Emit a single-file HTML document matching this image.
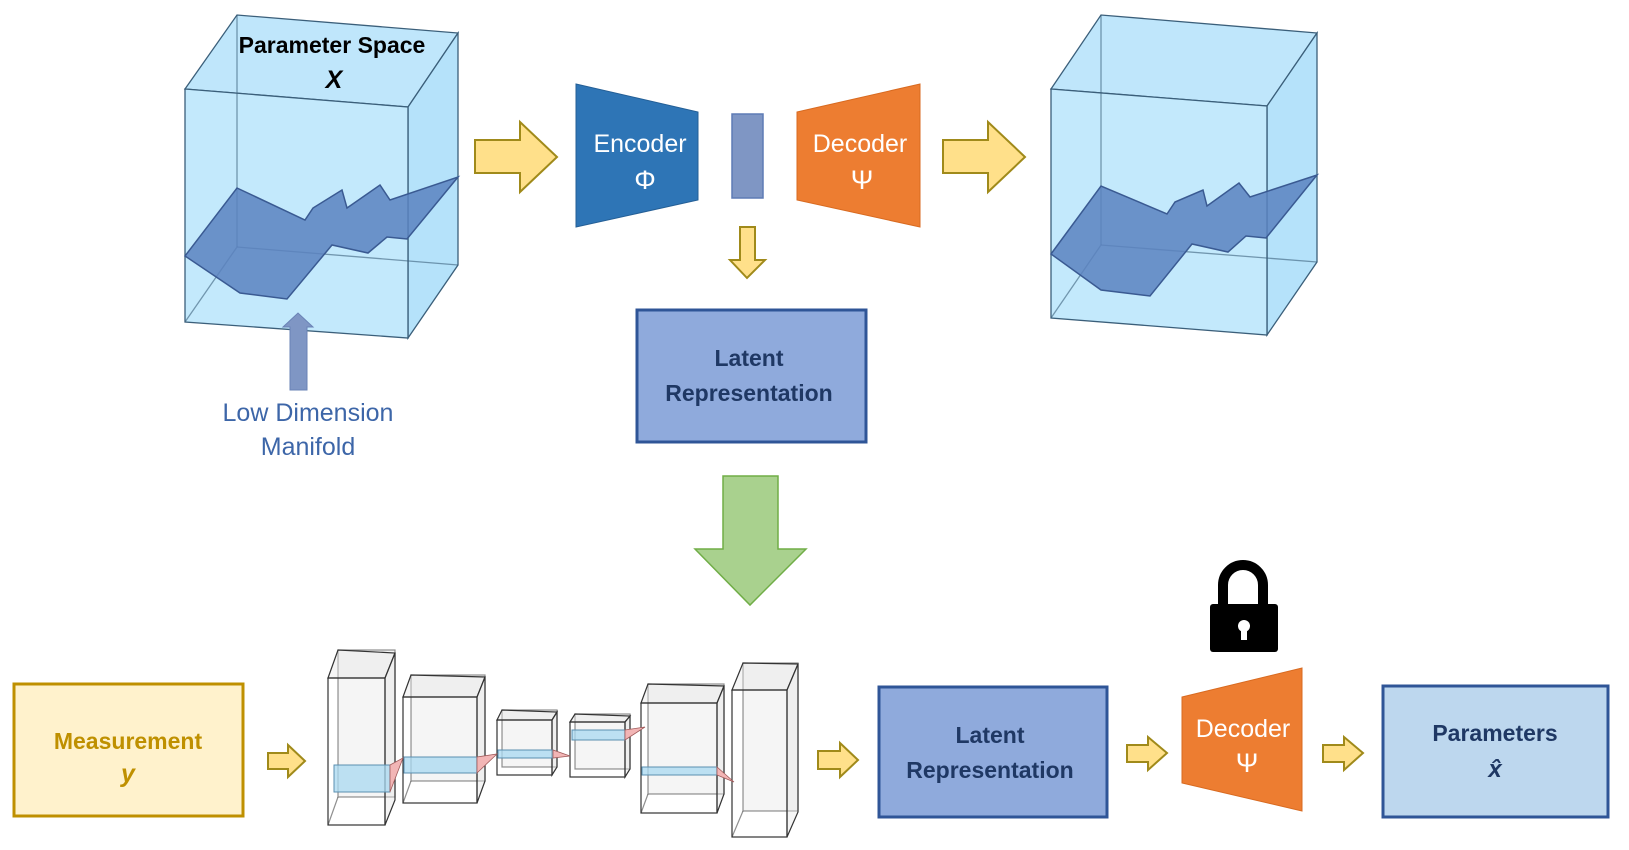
<!DOCTYPE html>
<html><head><meta charset="utf-8"><style>
html,body{margin:0;padding:0;background:#fff;}
svg{display:block;}
text{font-family:"Liberation Sans",sans-serif;}
</style></head><body>
<svg width="1629" height="850" viewBox="0 0 1629 850" xmlns="http://www.w3.org/2000/svg">
<rect width="1629" height="850" fill="#fff"/>

<!-- Left cube -->
<g stroke="#3b5f7a" stroke-width="1.3">
<polygon points="185,89 237,15 458,33 408,107" fill="#bfe6fb"/>
<polygon points="408,107 458,33 458,265 408,338" fill="#b5e2fa"/>
<polygon points="185,89 408,107 408,338 185,322" fill="#bde7fc" fill-opacity="0.9"/>
<line x1="237" y1="15" x2="237" y2="247" stroke-opacity="0.6"/>
<line x1="237" y1="247" x2="458" y2="265" stroke-opacity="0.6"/>
<line x1="237" y1="247" x2="185" y2="322" stroke-opacity="0.6"/>
</g>
<polygon points="185,256 237,188 305,220 313,208 342,190 347,208 380,185 390,200 458,177 407,239 387,237 368,253 332,245 287,299 240,293" fill="#5b82c0" fill-opacity="0.85" stroke="#3a5a92" stroke-width="1.5"/>
<text x="332" y="53" font-size="23" font-weight="bold" text-anchor="middle" fill="#000">Parameter Space</text>
<text x="334" y="88" font-size="25" font-weight="bold" font-style="italic" text-anchor="middle" fill="#000" font-family="Liberation Serif,serif">X</text>
<polygon points="290,390 307,390 307,327 313,327 298,313 283,327 290,327" fill="#7f96c4" stroke="#6a83b6" stroke-width="1"/>
<text x="308" y="421" font-size="25" text-anchor="middle" fill="#3d66a8">Low Dimension</text>
<text x="308" y="455" font-size="25" text-anchor="middle" fill="#3d66a8">Manifold</text>

<!-- Right cube -->
<g stroke="#3b5f7a" stroke-width="1.3">
<polygon points="1051,89 1101,15 1317,33 1267,106" fill="#bfe6fb"/>
<polygon points="1267,106 1317,33 1317,262 1267,335" fill="#b5e2fa"/>
<polygon points="1051,89 1267,106 1267,335 1051,318" fill="#bde7fc" fill-opacity="0.9"/>
<line x1="1101" y1="15" x2="1101" y2="245" stroke-opacity="0.6"/>
<line x1="1101" y1="245" x2="1317" y2="262" stroke-opacity="0.6"/>
<line x1="1101" y1="245" x2="1051" y2="318" stroke-opacity="0.6"/>
</g>
<polygon points="1051,254 1101,186 1167,214 1175,202 1203,190 1207,206 1239,183 1250,197 1317,175 1266,238 1246,236 1228,252 1192,244 1150,296 1101,290" fill="#5b82c0" fill-opacity="0.85" stroke="#3a5a92" stroke-width="1.5"/>

<!-- yellow arrows -->
<g fill="#ffe08a" stroke="#a08a1a" stroke-width="2">
<polygon points="475,140 520,140 520,122 557,157 520,192 520,173 475,173"/>
<polygon points="943,140 988,140 988,122 1025,157 988,192 988,173 943,173"/>
<polygon points="740,227 755,227 755,260 765,260 747,278 730,260 740,260"/>
<polygon points="268,753 288,753 288,745 305,761 288,777 288,769 268,769"/>
<polygon points="818,751 840,751 840,743 858,760 840,777 840,769 818,769"/>
<polygon points="1127,745 1148,745 1148,737 1167,753 1148,770 1148,762 1127,762"/>
<polygon points="1323,745 1344,745 1344,737 1363,753 1344,770 1344,762 1323,762"/>
</g>

<!-- Encoder / bar / Decoder -->
<polygon points="576,84 698,112 698,200 576,227" fill="#2e75b6" stroke="#245f96" stroke-width="1"/>
<text x="640" y="152" font-size="25" text-anchor="middle" fill="#fff">Encoder</text>
<text x="645" y="189" font-size="27" text-anchor="middle" fill="#fff" font-family="Liberation Serif,serif">Φ</text>
<rect x="732" y="114" width="31" height="84" fill="#7f96c4" stroke="#5e7bb5" stroke-width="1.5"/>
<polygon points="797,112 920,84 920,227 797,200" fill="#ed7d31" stroke="#d86a20" stroke-width="1"/>
<text x="860" y="152" font-size="25" text-anchor="middle" fill="#fff">Decoder</text>
<text x="862" y="189" font-size="27" text-anchor="middle" fill="#fff" font-family="Liberation Serif,serif">Ψ</text>

<!-- Latent top -->
<rect x="637" y="310" width="229" height="132" fill="#8faadc" stroke="#2f5597" stroke-width="3"/>
<text x="749" y="366" font-size="23" font-weight="bold" text-anchor="middle" fill="#1f3864">Latent</text>
<text x="749" y="401" font-size="23" font-weight="bold" text-anchor="middle" fill="#1f3864">Representation</text>

<!-- green arrow -->
<polygon points="723,476 778,476 778,549 806,549 750,605 695,549 723,549" fill="#a9d18e" stroke="#70ad47" stroke-width="1.5"/>

<!-- Measurement -->
<rect x="14" y="684" width="229" height="132" fill="#fff2cc" stroke="#bf9000" stroke-width="3"/>
<text x="128" y="749" font-size="23" font-weight="bold" text-anchor="middle" fill="#bf9000">Measurement</text>
<text x="128" y="782" font-size="25" font-weight="bold" font-style="italic" text-anchor="middle" fill="#bf9000" font-family="Liberation Serif,serif">y</text>

<!-- Network boxes (wireframe) -->
<g stroke="#333" stroke-width="1.2" fill="#e6e6e6" fill-opacity="0.4">
<rect x="338" y="650" width="57" height="147" stroke-opacity="0.55"/>
<line x1="328" y1="825" x2="338" y2="797" stroke-opacity="0.55"/>
<polygon points="328,678 338,650 395,653 385,678"/><polygon points="385,678 395,653 395,800 385,825"/>
<rect x="328" y="678" width="57" height="147" fill="none"/>

<rect x="411" y="675" width="74" height="106" stroke-opacity="0.55"/>
<line x1="403" y1="803" x2="411" y2="781" stroke-opacity="0.55"/>
<polygon points="403,697 411,675 485,677 477,697"/><polygon points="477,697 485,677 485,781 477,803"/>
<rect x="403" y="697" width="74" height="106" fill="none"/>

<rect x="502" y="710" width="55" height="57" stroke-opacity="0.55"/>
<polygon points="497,720 502,710 557,712 552,720"/><polygon points="552,720 557,712 557,767 552,775"/>
<rect x="497" y="720" width="55" height="55" fill="none"/>

<rect x="575" y="714" width="55" height="55" stroke-opacity="0.55"/>
<polygon points="570,722 575,714 630,716 625,722"/><polygon points="625,722 630,716 630,769 625,777"/>
<rect x="570" y="722" width="55" height="55" fill="none"/>

<rect x="648" y="684" width="76" height="110" stroke-opacity="0.55"/>
<line x1="641" y1="813" x2="648" y2="794" stroke-opacity="0.55"/>
<polygon points="641,703 648,684 724,686 717,703"/><polygon points="717,703 724,686 724,794 717,813"/>
<rect x="641" y="703" width="76" height="110" fill="none"/>

<rect x="743" y="663" width="55" height="148" stroke-opacity="0.55"/>
<line x1="732" y1="837" x2="743" y2="811" stroke-opacity="0.55"/>
<polygon points="732,690 743,663 798,664 787,690"/><polygon points="787,690 798,664 798,812 787,837"/>
<rect x="732" y="690" width="55" height="147" fill="none"/>
</g>
<g fill="#a8d8f0" fill-opacity="0.75" stroke="#5a8fb0" stroke-width="1">
<rect x="334" y="765" width="56" height="27"/>
<rect x="404" y="757" width="73" height="16"/>
<rect x="498" y="750" width="55" height="8"/>
<rect x="572" y="730" width="53" height="10"/>
<rect x="642" y="767" width="75" height="8"/>
</g>
<g fill="#f2b5b5" stroke="#a05a5a" stroke-width="0.8">
<polygon points="390,765 390,792 403,758"/>
<polygon points="477,757 477,773 497,754"/>
<polygon points="553,750 553,758 570,756"/>
<polygon points="625,730 625,740 645,727"/>
<polygon points="717,767 717,775 734,782"/>
</g>

<!-- Latent bottom -->
<rect x="879" y="687" width="228" height="130" fill="#8faadc" stroke="#2f5597" stroke-width="3"/>
<text x="990" y="743" font-size="23" font-weight="bold" text-anchor="middle" fill="#1f3864">Latent</text>
<text x="990" y="778" font-size="23" font-weight="bold" text-anchor="middle" fill="#1f3864">Representation</text>

<!-- Lock -->
<path d="M1223,607 L1223,585 A20,20 0 0 1 1263,585 L1263,607" fill="none" stroke="#000" stroke-width="10"/>
<rect x="1210" y="604" width="68" height="48" rx="3" fill="#000"/>
<circle cx="1244" cy="626" r="6" fill="#fff"/>
<rect x="1241" y="628" width="6" height="12" fill="#fff"/>

<!-- Decoder bottom -->
<polygon points="1182,697 1302,668 1302,811 1182,783" fill="#ed7d31" stroke="#d86a20" stroke-width="1"/>
<text x="1243" y="737" font-size="25" text-anchor="middle" fill="#fff">Decoder</text>
<text x="1247" y="772" font-size="27" text-anchor="middle" fill="#fff" font-family="Liberation Serif,serif">Ψ</text>

<!-- Parameters -->
<rect x="1383" y="686" width="225" height="131" fill="#bdd7ee" stroke="#2f5597" stroke-width="3"/>
<text x="1495" y="741" font-size="23" font-weight="bold" text-anchor="middle" fill="#1f3864">Parameters</text>
<text x="1495" y="777" font-size="24" font-weight="bold" font-style="italic" text-anchor="middle" fill="#1f3864" font-family="Liberation Serif,serif">x̂</text>
</svg>
</body></html>
